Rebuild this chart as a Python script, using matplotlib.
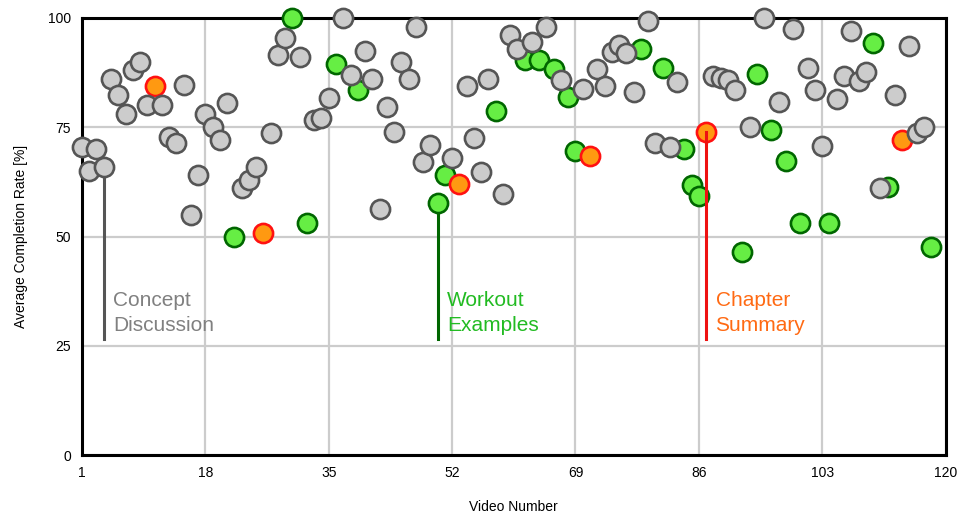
import numpy as np
import matplotlib.pyplot as plt

plt.rcParams['font.family'] = ['Liberation Sans', 'DejaVu Sans']

# video type: c = concept discussion, w = workout example, s = chapter summary
video_type = list(
    "cccccccccc" "sccccccccc"  # 1-20
    "cwcccscccw" "cwcccwccwc"  # 21-40
    "cccccccccw" "wcsccccwcc"  # 41-60
    "cwcwcwcwwc" "sccccccwcc"  # 61-80
    "wccwwwsccc" "cwcwcwcwcw"  # 81-100
    "cccwcccccw" "cwcscccw"    # 101-118
)
completion = [
    70.5, 65.0, 70.0, 66.0, 86.0, 82.4, 78.0, 88.0, 90.0, 80.0,
    84.5, 80.0, 72.8, 71.4, 84.7, 55.0, 64.0, 78.0, 75.0, 72.0,
    80.5, 50.0, 61.0, 63.0, 66.0, 50.8, 73.7, 91.5, 95.4, 100.0,
    91.0, 53.0, 76.7, 77.0, 81.7, 89.5, 100.0, 87.0, 83.5, 92.5,
    86.0, 56.3, 79.6, 74.0, 90.0, 86.0, 98.0, 67.0, 71.0, 57.7,
    64.0, 68.0, 62.0, 84.5, 72.5, 64.7, 86.0, 78.7, 59.7, 96.0,
    93.0, 90.4, 94.5, 90.4, 98.0, 88.3, 85.8, 82.0, 69.6, 83.7,
    68.4, 88.3, 84.4, 92.2, 93.8, 92.0, 83.0, 93.0, 99.3, 71.4,
    88.6, 70.5, 85.3, 70.0, 61.8, 59.3, 74.0, 86.7, 86.3, 85.8,
    83.5, 46.5, 75.0, 87.2, 100.0, 74.4, 80.8, 67.3, 97.5, 53.0,
    88.6, 83.5, 70.7, 53.0, 81.5, 86.7, 97.0, 85.6, 87.6, 94.3,
    61.0, 61.3, 82.4, 72.0, 93.6, 73.7, 75.0, 47.6,
]
video_num = np.arange(1, len(completion) + 1)

x_ticks = [1, 18, 35, 52, 69, 86, 103, 120]
y_ticks = [0, 25, 50, 75, 100]

styles = {
    'w': ('#66ee44', '#006600'),
    's': ('#ff9911', '#ff1111'),
    'c': ('#cccccc', '#555555'),
}

# example videos picked out with a label
callouts = [
    (4, 'c', 'Concept\nDiscussion', '#555555', '#808080'),
    (50, 'w', 'Workout\nExamples', '#006600', '#22bb22'),
    (87, 's', 'Chapter\nSummary', '#ee1111', '#ff6a13'),
]

fig = plt.figure(figsize=(9.6, 5.12), dpi=100)
ax = fig.add_axes([0.0854, 0.111, 0.8996, 0.854])

vt = np.array(video_type)
y = np.array(completion)
for k, z in [('w', 3), ('s', 4), ('c', 5)]:
    m = vt == k
    fc, ec = styles[k]
    ax.scatter(video_num[m], y[m], s=190, c=fc, edgecolors=ec,
               linewidths=1.9, zorder=z, clip_on=False)

for vid, k, label, lc, tc in callouts:
    yv = completion[vid - 1]
    ax.plot([vid, vid], [yv, 26.5], color=lc, lw=2.2, zorder=2.5 if k != 's' else 4.5)
    ax.text(vid + 1.3, 32.5, label, color=tc, fontsize=15, va='center',
            ha='left', linespacing=1.4)

ax.set_xlim(1, 120)
ax.set_ylim(0, 100)
ax.set_xticks(x_ticks)
ax.set_yticks(y_ticks)
ax.grid(True, color='#cccccc', lw=1.6)
ax.set_axisbelow(True)
ax.tick_params(length=0, labelsize=10, pad=8)
for sp in ax.spines.values():
    sp.set_linewidth(2.2)
    sp.set_color('black')
    sp.set_zorder(2)
ax.set_xlabel('Video Number', fontsize=10, labelpad=14)
ax.set_ylabel('Average Completion Rate [%]', fontsize=10, labelpad=14)

fig.savefig('out.png', dpi=100)
